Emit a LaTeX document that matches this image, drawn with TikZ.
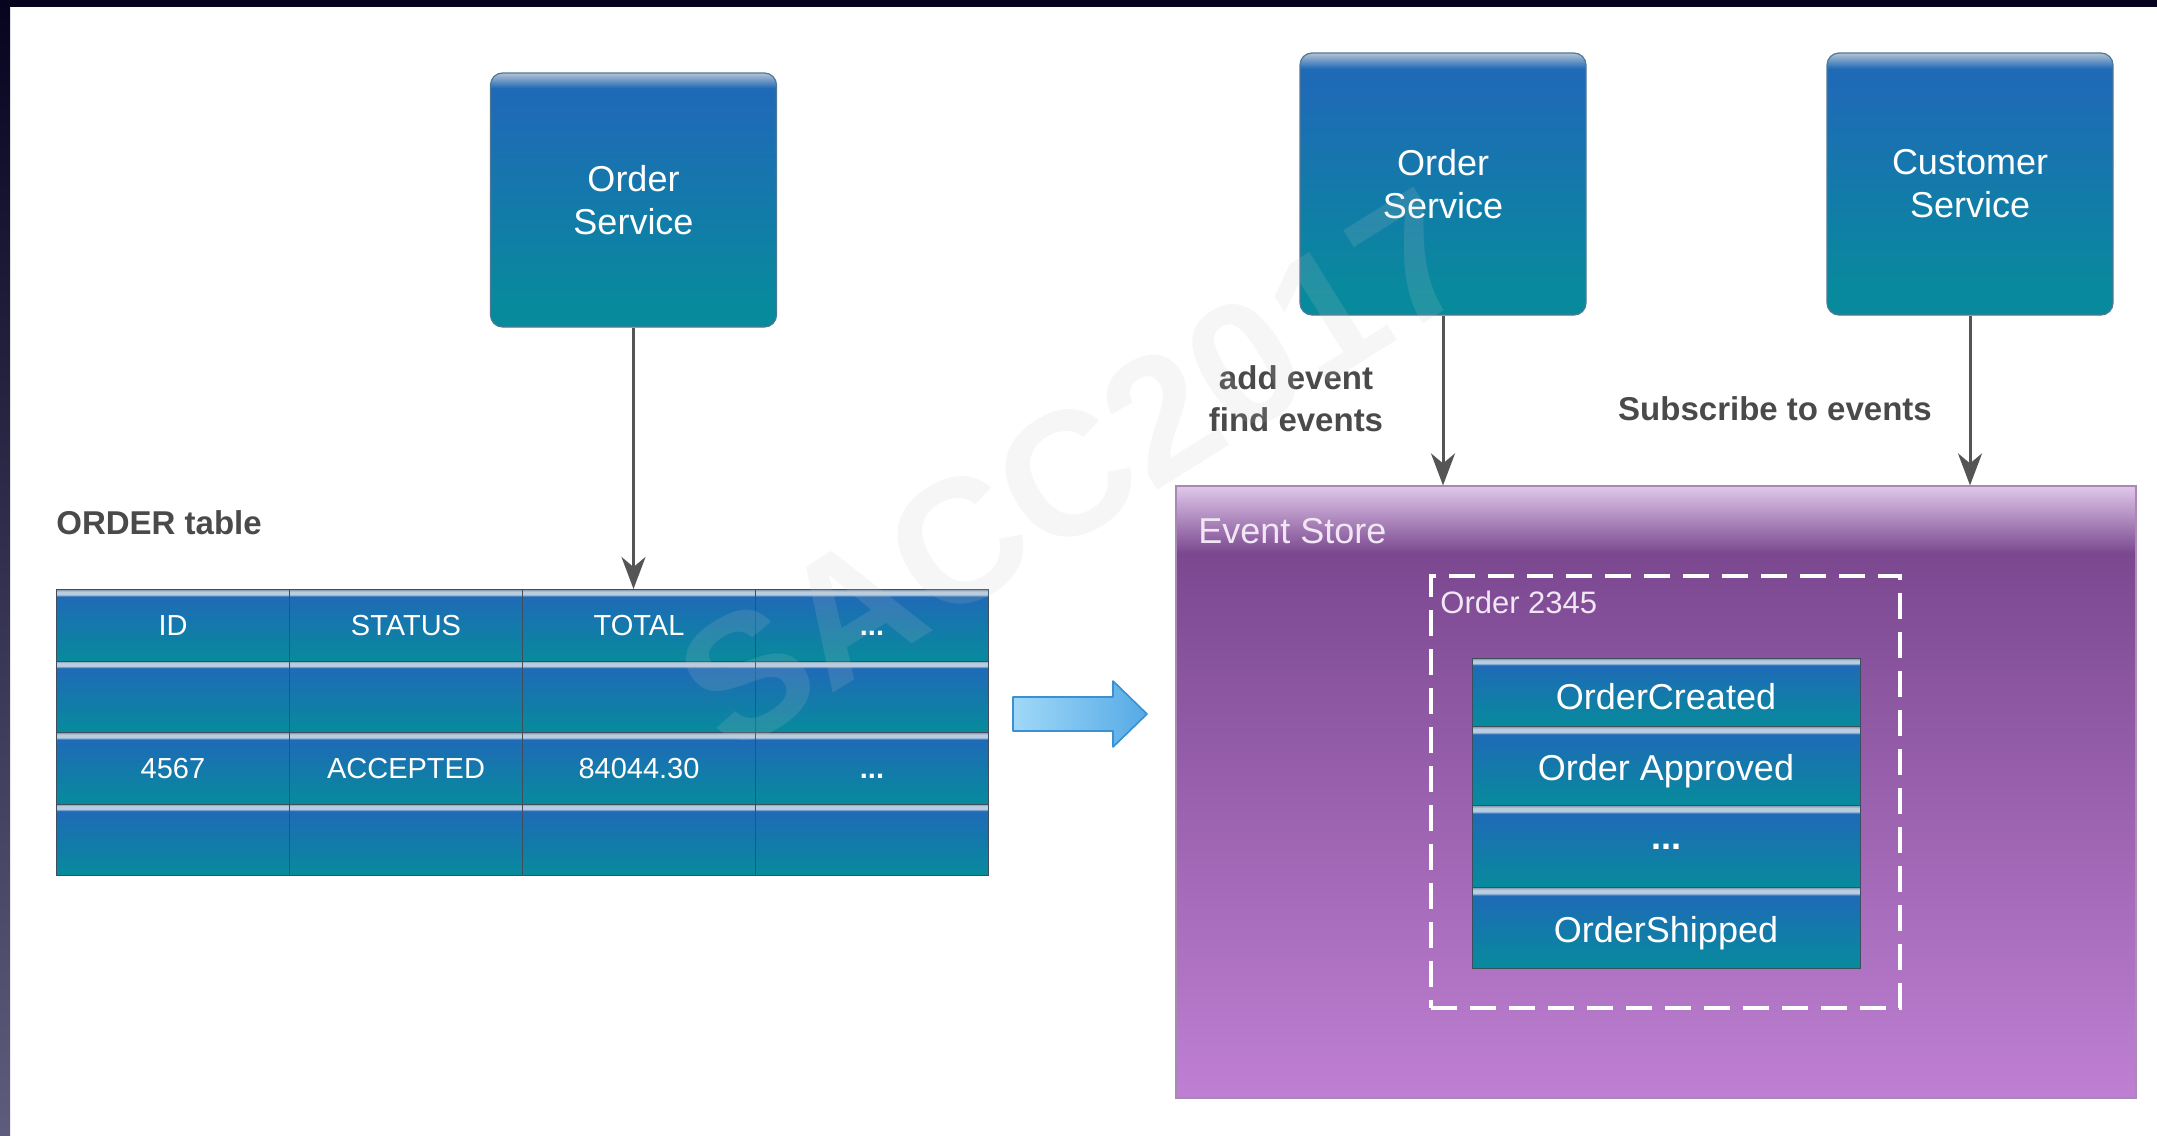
\documentclass[tikz,border=0pt]{standalone}
\usepackage{fontspec}
\setmainfont{Liberation Sans}
\usetikzlibrary{arrows.meta}

\definecolor{svcBlue}{HTML}{1F6AB7}
\definecolor{svcTeal}{HTML}{078B9C}
\definecolor{svcHi}{HTML}{B4C3D3}
\definecolor{rowHi}{HTML}{B9CDE0}
\definecolor{rowTop}{HTML}{7F95AC}
\definecolor{boxEdge}{HTML}{4F7896}
\definecolor{cellEdge}{HTML}{3E4E5E}
\definecolor{lineGray}{HTML}{555555}
\definecolor{labelGray}{HTML}{4A4A4A}
\definecolor{esTop}{HTML}{E0C8EA}
\definecolor{esDark}{HTML}{7B4890}
\definecolor{esBottom}{HTML}{BF80D3}
\definecolor{esEdge}{HTML}{A889B5}
\definecolor{esText}{HTML}{F1E6F4}
\definecolor{frameDark}{HTML}{070420}
\definecolor{frameLight}{HTML}{5D5C7C}
\definecolor{flowLight}{HTML}{A0D8F8}
\definecolor{flowDark}{HTML}{55AAE6}
\definecolor{flowEdge}{HTML}{3A90D0}
\definecolor{markGray}{HTML}{C8C8C8}

% service boxes: glossy highlight on top, blue fading into teal
\pgfdeclareverticalshading{svcshade}{100bp}{color(0bp)=(svcTeal); color(28bp)=(svcTeal); color(69bp)=(svcBlue); color(72bp)=(svcBlue); color(75bp)=(svcHi); color(100bp)=(svcHi)}
% table and event rows: thin light line at the top of each row
\pgfdeclareverticalshading{rowshade}{100bp}{color(0bp)=(svcTeal); color(25bp)=(svcTeal); color(70bp)=(svcBlue); color(71.5bp)=(rowHi); color(73.5bp)=(rowHi); color(75bp)=(rowTop); color(100bp)=(rowTop)}
% event store panel
\pgfdeclareverticalshading{storeshade}{100bp}{color(0bp)=(esBottom); color(25bp)=(esBottom); color(69.5bp)=(esDark); color(75bp)=(esTop); color(100bp)=(esTop)}

\tikzset{
  svc/.style={shading=svcshade, draw=boxEdge, line width=0.6pt, rounded corners=6pt,
    minimum width=143pt, inner sep=0, align=center, text=white,
    font=\fontsize{18}{21.5}\selectfont},
  cell/.style={shading=rowshade, draw=cellEdge, line width=0.5pt, anchor=north west,
    minimum width=116.5pt, minimum height=35.75pt, inner sep=0, text=white,
    text height=10.4pt, text depth=0pt, font=\fontsize{14.5}{17}\selectfont},
  evrow/.style={shading=rowshade, draw=cellEdge, line width=0.5pt, anchor=north,
    minimum width=194pt, inner sep=0, text=white, text height=14.5pt, text depth=0pt,
    font=\fontsize{18}{21}\selectfont},
  lbl/.style={text=labelGray, inner sep=0, align=center,
    font=\bfseries\fontsize{16.5}{21}\selectfont},
  conn/.style={draw=lineGray, line width=1.5pt, -{Stealth[length=16pt,width=12pt,inset=5pt]}},
}

\begin{document}
\begin{tikzpicture}[x=0.5pt,y=-0.5pt]
\useasboundingbox (0,0) rectangle (2157,1135);
\fill[white] (0,0) rectangle (2157,1135);

% screen frame along the top and left edges
\fill[frameDark] (0,0) rectangle (2157,7);
\shade[top color=frameDark, bottom color=frameLight] (0,0) rectangle (10,1135);

% ---------- left: classic ORDER table ----------
\node[svc, minimum height=127pt] (osL) at (633.5,200) {Order\\Service};

\node[lbl, anchor=west] (tblLbl) at (56,523) {ORDER table};

\node[cell] (t11) at (56,589)  {ID};
\node[cell] (t12) at (289,589) {STATUS};
\node[cell] (t13) at (522,589) {TOTAL};
\node[cell] (t14) at (755,589) {\textbf{...}};
\node[cell] (t21) at (56,660.5)  {};
\node[cell] (t22) at (289,660.5) {};
\node[cell] (t23) at (522,660.5) {};
\node[cell] (t24) at (755,660.5) {};
\node[cell] (t31) at (56,732)  {4567};
\node[cell] (t32) at (289,732) {ACCEPTED};
\node[cell] (t33) at (522,732) {84044.30};
\node[cell] (t34) at (755,732) {\textbf{...}};
\node[cell] (t41) at (56,803.5)  {};
\node[cell] (t42) at (289,803.5) {};
\node[cell] (t43) at (522,803.5) {};
\node[cell] (t44) at (755,803.5) {};

\draw[conn] (osL.south) -- (osL.south |- t13.north);

% ---------- transition arrow ----------
\draw[draw=flowEdge, line width=0.8pt, shading=axis, shading angle=-60,
      left color=flowLight, right color=flowDark, line join=round]
  (1013,697) -- (1113,697) -- (1113,681) -- (1147,714) -- (1113,747)
  -- (1113,731) -- (1013,731) -- cycle;

% ---------- right: event sourcing ----------
\node[svc, minimum height=131pt] (osR) at (1443,184) {Order\\Service};
\node[svc, minimum height=131pt] (cs)  at (1970,184) {Customer\\Service};

\node[shading=storeshade, draw=esEdge, line width=0.6pt, minimum width=480pt,
      minimum height=306pt, inner sep=0] (es) at (1656,792) {};
\node[anchor=west, inner sep=0, text=esText, font=\fontsize{18}{21}\selectfont]
  (esLbl) at (1198,531) {Event Store};

\node[draw=white, line width=2pt, dash pattern=on 13pt off 6.5pt,
      minimum width=234.5pt, minimum height=216pt, inner sep=0] (agg) at (1665.5,792) {};
\node[anchor=west, inner sep=0, text=esText, font=\fontsize{15.5}{18}\selectfont]
  (aggLbl) at (1440,602) {Order 2345};

\node[evrow, minimum height=34pt, text height=16.5pt] (e1) at (1666,658) {OrderCreated};
\node[evrow, minimum height=39.5pt] (e2) at (1666,726) {Order Approved};
\node[evrow, minimum height=41pt, text height=3pt] (e3) at (1666,805) {\textbf{...}};
\node[evrow, minimum height=40.5pt] (e4) at (1666,887) {OrderShipped};

\draw[conn] (osR.south) -- (osR.south |- es.north);
\draw[conn] (cs.south) -- (cs.south |- es.north);

\node[lbl] (addLbl) at (1296,399) {add event\\find events};
\node[lbl] (subLbl) at (1775,409) {Subscribe to events};

% conference watermark
\node[rotate=32, text=markGray, opacity=0.15, inner sep=0,
      font=\bfseries\fontsize{88}{88}\selectfont] (mark) at (1075,470) {SACC2017};
\end{tikzpicture}
\end{document}
